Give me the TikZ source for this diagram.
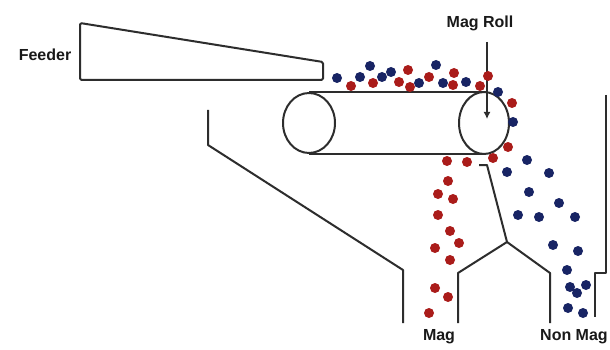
\documentclass[tikz,border=0pt]{standalone}
\usepackage{fontspec}
\setmainfont{Liberation Sans}
\usetikzlibrary{arrows.meta}
\definecolor{linegray}{RGB}{45,45,45}
\definecolor{magred}{RGB}{170,28,26}
\definecolor{nonmagblue}{RGB}{24,36,100}
\tikzset{
  part/.style={draw=linegray, line width=2pt, line join=round},
  label/.style={font=\bfseries\fontsize{16}{18}\selectfont, text=black!90, inner sep=0pt},
  reddot/.style={fill=magred},
  bluedot/.style={fill=nonmagblue}
}
\begin{document}
\begin{tikzpicture}[x=1pt, y=-1pt]
  \fill[white] (0,0) rectangle (610,350);
  \useasboundingbox (0,0) rectangle (610,350);

  % vibratory feeder tray
  \draw[part, rounded corners=1.5pt] (80,23) -- (80,80) -- (323,80) -- (323,62) -- cycle;
  \node[label] (feeder) at (45,55) {Feeder};

  % belt conveyor with idler and magnetic head roll
  \draw[part] (309,123) ellipse[x radius=26pt, y radius=30pt];
  \draw[part] (484,123) ellipse[x radius=25pt, y radius=31pt];
  \draw[part] (309,92) -- (484,92);
  \draw[part] (309,154) -- (484,154);

  % label pointing to the roll axis
  \node[label] (magroll) at (480,23) {Mag Roll};
  \coordinate (rollaxis) at (487,119);
  \draw[linegray, line width=2pt, -{Latex[length=7pt,width=7pt]}] (487,42) -- (rollaxis);

  % left guide chute
  \draw[part] (208,110) -- (208,145) -- (403,270) -- (403,323);

  % splitter between the two product streams
  \draw[part] (479,165) -- (487,165) -- (507,242);
  \draw[part] (458,323) -- (458,273) -- (507,242) -- (550,273) -- (550,323);

  % right housing wall
  \draw[part] (606,95) -- (606,273) -- (595,273) -- (595,317);

  % magnetic particles
  \foreach \p in {(351,86),(373,83),(399,82),(408,70),(410,87),(429,77),(454,73),
                  (453,85),(480,86),(488,76),(512,103),(508,147),(493,158),(467,162),
                  (447,161),(448,181),(438,194),(453,199),(438,215),(450,231),(459,243),
                  (435,248),(450,260),(435,288),(448,297),(429,313)}
    \fill[reddot] \p circle[radius=5pt];

  % non-magnetic particles
  \foreach \p in {(337,78),(360,77),(370,66),(382,77),(391,72),(419,83),(436,65),
                  (443,83),(466,82),(498,92),(513,122),(507,172),(527,160),(549,173),
                  (529,192),(559,203),(518,215),(539,217),(575,217),(553,245),(578,251),
                  (567,270),(570,287),(586,285),(577,293),(568,308),(583,313)}
    \fill[bluedot] \p circle[radius=5pt];

  % discharge labels
  \node[label] (mag) at (439,337) {Mag};
  \node[label, anchor=west] (nonmag) at (540,337) {Non Mag};
\end{tikzpicture}
\end{document}
